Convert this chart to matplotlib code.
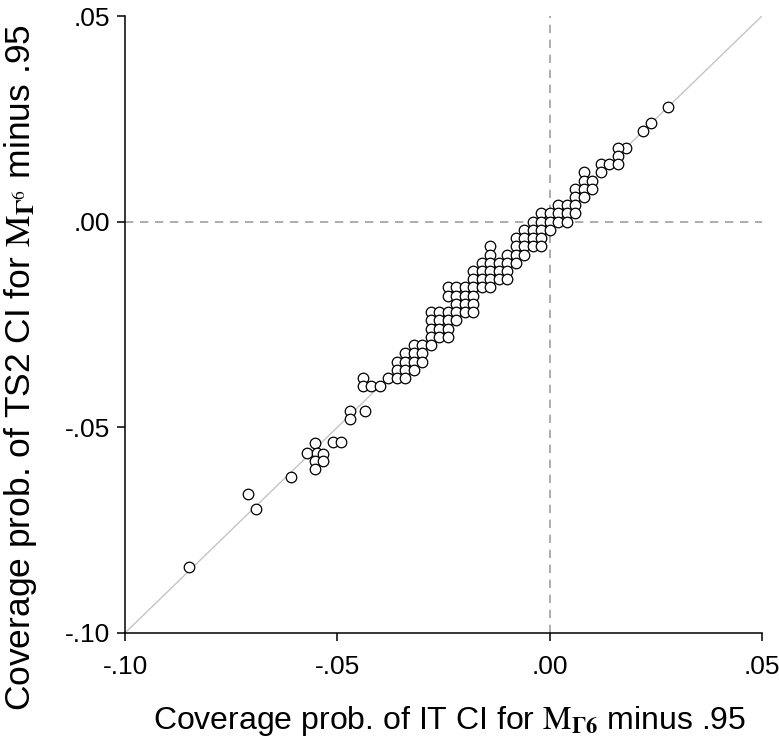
import numpy as np
import matplotlib.pyplot as plt

plt.rcParams['font.family'] = ['Liberation Sans', 'DejaVu Sans']
plt.rcParams['mathtext.fontset'] = 'stix'

# coverage prob. minus .95 (IT CI, TS2 CI)
# upper part of the band
it_top = [0.028, 0.024, 0.022, 0.018, 0.016, 0.016, 0.012, 0.014, 0.016, 0.012,
          0.008, 0.008, 0.010, 0.006, 0.008, 0.010, 0.006, 0.008, 0.002, 0.004, 0.006]
ts2_top = [0.028, 0.024, 0.022, 0.018, 0.018, 0.016, 0.014, 0.014, 0.014, 0.012,
           0.012, 0.010, 0.010, 0.008, 0.008, 0.008, 0.006, 0.006, 0.004, 0.004, 0.004]

# dense band, one row per TS2 value
band_ts2 = [0.002, 0.000, -0.002, -0.004, -0.006, -0.008, -0.010, -0.012, -0.014,
            -0.016, -0.018, -0.020, -0.022, -0.024, -0.026, -0.028, -0.030,
            -0.032, -0.034, -0.036, -0.038, -0.040]
band_it = [
    [-0.002, 0.000, 0.002, 0.004, 0.006],
    [-0.004, -0.002, 0.000, 0.002, 0.004],
    [-0.006, -0.004, -0.002, 0.000],
    [-0.008, -0.006, -0.004, -0.002],
    [-0.014, -0.008, -0.006, -0.004, -0.002],
    [-0.014, -0.010, -0.008, -0.006],
    [-0.016, -0.014, -0.012, -0.010, -0.008],
    [-0.018, -0.016, -0.014, -0.012, -0.010],
    [-0.018, -0.016, -0.014, -0.012, -0.010],
    [-0.024, -0.022, -0.020, -0.018, -0.016, -0.014],
    [-0.024, -0.022, -0.020, -0.018],
    [-0.022, -0.020, -0.018],
    [-0.028, -0.026, -0.024, -0.022, -0.020, -0.018],
    [-0.028, -0.026, -0.024, -0.022],
    [-0.028, -0.026, -0.024],
    [-0.028, -0.026, -0.024],
    [-0.032, -0.030, -0.028],
    [-0.034, -0.032, -0.030],
    [-0.036, -0.034, -0.032, -0.030],
    [-0.036, -0.034, -0.032],
    [-0.044, -0.038, -0.036, -0.034],
    [-0.044, -0.042, -0.040],
]

# lower, scattered points
it_low = [-0.047, -0.047, -0.0435, -0.0553, -0.0571, -0.0548, -0.0534, -0.0553,
          -0.0534, -0.0553, -0.0510, -0.0491, -0.0609, -0.0710, -0.0691, -0.0849]
ts2_low = [-0.046, -0.048, -0.046, -0.0537, -0.0562, -0.0562, -0.0564, -0.0581,
           -0.0581, -0.0601, -0.0535, -0.0535, -0.0620, -0.0661, -0.0698, -0.0839]

ticks = [-0.10, -0.05, 0.00, 0.05]
tick_labels = ['-.10', '-.05', '.00', '.05']

x = list(it_top)
y = list(ts2_top)
for yv, row in zip(band_ts2, band_it):
    x += row
    y += [yv] * len(row)
x += it_low
y += ts2_low

fig = plt.figure(figsize=(7.79, 7.49), dpi=100)
ax = fig.add_axes([0.1605, 0.155, 0.8175, 0.8235])

ax.plot([-0.10, 0.05], [-0.10, 0.05], color='#c4c4c4', lw=1.0, zorder=1)
ax.axvline(0, color='#a0a0a0', lw=1.2, ls=(0, (5, 4)), zorder=1)
ax.axhline(0, color='#a0a0a0', lw=1.2, ls=(0, (5, 4)), zorder=1)

ax.plot(x, y, ls='none', marker='o', ms=7.6, mfc='white', mec='black', mew=0.9, zorder=3)

ax.set_xlim(-0.10, 0.05)
ax.set_ylim(-0.10, 0.05)
ax.set_xticks(ticks)
ax.set_xticklabels(tick_labels)
ax.set_yticks(ticks)
ax.set_yticklabels(tick_labels)

for s in ['top', 'right']:
    ax.spines[s].set_visible(False)
for s in ['left', 'bottom']:
    ax.spines[s].set_linewidth(1.1)

ax.tick_params(axis='both', direction='out', length=6, width=1.1, labelsize=19, colors='black')
ax.tick_params(axis='x', pad=10)
ax.tick_params(axis='y', pad=5)

ax.set_xlabel(r'Coverage prob. of IT CI for $\mathrm{M}_{\mathbf{\Gamma 6}}$ minus .95', fontsize=23)
ax.set_ylabel(r'Coverage prob. of TS2 CI for $\mathrm{M}_{\mathbf{\Gamma}^{6}}$ minus .95', fontsize=25.5)
ax.xaxis.set_label_coords(0.51, -0.115)
ax.yaxis.set_label_coords(-0.135, 0.43)

fig.savefig('out.png', dpi=100)
